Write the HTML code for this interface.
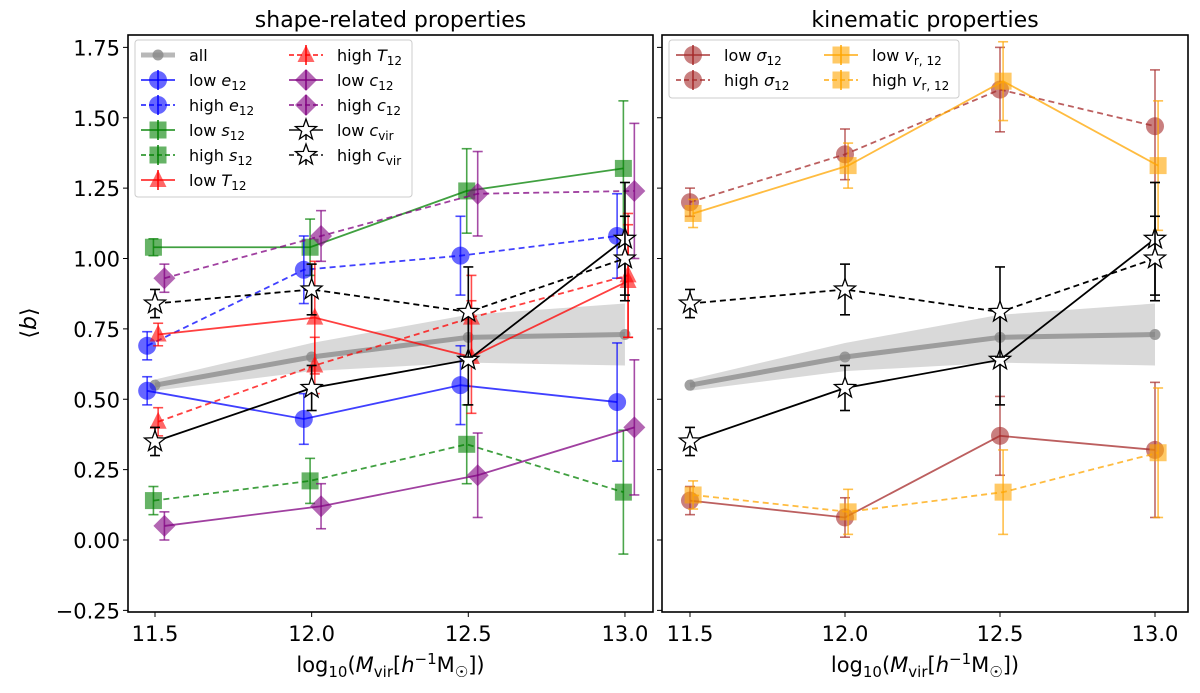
<!DOCTYPE html>
<html><head><meta charset="utf-8"><style>
body{margin:0;background:#fff;}
svg text{font-family:"DejaVu Sans","Liberation Sans",sans-serif;}
</style></head><body>
<svg id="c" width="1200" height="688" viewBox="0 0 1200 688" xmlns="http://www.w3.org/2000/svg"></svg>
<script>
const xCats=[11.5,12.0,12.5,13.0];
const yTicks=[-0.25,0,0.25,0.5,0.75,1.0,1.25,1.5,1.75];
const yTickLabels=["\u22120.25","0.00","0.25","0.50","0.75","1.00","1.25","1.50","1.75"];
const xTickLabels=["11.5","12.0","12.5","13.0"];
const allV=[0.55,0.65,0.72,0.73];
const allLo=[0.53,0.60,0.63,0.62];
const allHi=[0.57,0.70,0.80,0.84];
const lowE=[0.53,0.43,0.55,0.49], lowEErr=[0.05,0.09,0.14,0.21];
const highE=[0.69,0.96,1.01,1.08], highEErr=[0.05,0.12,0.14,0.15];
const lowS=[1.04,1.04,1.24,1.32], lowSErr=[0.03,0.1,0.15,0.24];
const highS=[0.14,0.21,0.34,0.17], highSErr=[0.05,0.08,0.14,0.22];
const lowT=[0.73,0.79,0.65,0.92], lowTErr=[0.04,0.2,0.2,0.2];
const highT=[0.42,0.62,0.79,0.94], highTErr=[0.05,0.1,0.15,0.22];
const lowC=[0.05,0.12,0.23,0.40], lowCErr=[0.05,0.08,0.15,0.24];
const highC=[0.93,1.08,1.23,1.24], highCErr=[0.05,0.09,0.15,0.24];
const lowCvir=[0.35,0.54,0.64,1.07], lowCvirErr=[0.05,0.08,0.16,0.2];
const highCvir=[0.84,0.89,0.81,1.00], highCvirErr=[0.05,0.09,0.16,0.15];
const lowSig=[0.14,0.08,0.37,0.32], lowSigErr=[0.05,0.07,0.14,0.24];
const highSig=[1.20,1.37,1.60,1.47], highSigErr=[0.05,0.09,0.15,0.2];
const lowVr=[1.16,1.33,1.63,1.33], lowVrErr=[0.05,0.08,0.14,0.23];
const highVr=[0.16,0.10,0.17,0.31], highVrErr=[0.05,0.08,0.15,0.23];

const svg=document.getElementById('c');
const NS="http://www.w3.org/2000/svg";
function el(tag,attrs,parent){const e=document.createElementNS(NS,tag);for(const k in attrs)e.setAttribute(k,attrs[k]);(parent||svg).appendChild(e);return e;}
const yS=v=>540-281.5*v;
const panels=[
 {x0:128,x1:653,xs:v=>155+(v-11.5)*313.3,title:"shape-related properties",name:"left"},
 {x0:662,x1:1188,xs:v=>690+(v-11.5)*310,title:"kinematic properties",name:"right"}];

function marker(g,type,x,y,fill,stroke,op){
  let e;
  if(type==='o'){e=el('circle',{cx:x,cy:y,r:9},g);}
  else if(type==='s'){e=el('rect',{x:x-8.5,y:y-8.5,width:17,height:17},g);}
  else if(type==='^'){e=el('polygon',{points:`${x},${y-10} ${x+8.5},${y+7} ${x-8.5},${y+7}`},g);}
  else if(type==='D'){e=el('polygon',{points:`${x},${y-11} ${x+11},${y} ${x},${y+11} ${x-11},${y}`},g);}
  else if(type==='*'){let p=[];for(let i=0;i<10;i++){const a=-Math.PI/2+i*Math.PI/5;const r=i%2?4.5:11;p.push((x+r*Math.cos(a)).toFixed(1)+','+(y+r*Math.sin(a)).toFixed(1));}e=el('polygon',{points:p.join(' ')},g);}
  e.setAttribute('fill',fill);e.setAttribute('fill-opacity',op);
  if(type==='*'){e.setAttribute('stroke','#000');e.setAttribute('stroke-width','1.3');}
  return e;
}

function series(p,vals,errs,off,color,dash,type,name){
  const g=el('g',{});
  
  
  const pts=vals.map((v,i)=>[p.xs(xCats[i]+off),yS(v)]);
  const ln=el('polyline',{points:pts.map(q=>q.join(',')).join(' '),fill:'none',stroke:color,'stroke-width':1.8,'stroke-opacity':type==='*'?1:0.75},g);
  if(dash)ln.setAttribute('stroke-dasharray','6,4');
  
  
  pts.forEach((q,i)=>{
    const e=errs[i],y1=yS(vals[i]+e),y2=yS(vals[i]-e),x=q[0];
    const eo=type==='*'?1:0.7;
    el('line',{x1:x,x2:x,y1:y1,y2:y2,stroke:color,'stroke-width':1.6,'stroke-opacity':eo},g);
    el('line',{x1:x-5,x2:x+5,y1:y1,y2:y1,stroke:color,'stroke-width':1.6,'stroke-opacity':eo},g);
    el('line',{x1:x-5,x2:x+5,y1:y2,y2:y2,stroke:color,'stroke-width':1.6,'stroke-opacity':eo},g);
    const m=marker(g,type,x,q[1],type==='*'?'#fff':color,color,type==='*'?1:0.6);
    
    
  });
}

function allSeries(p){
  const g=el('g',{});
  
  
  const top=allHi.map((v,i)=>p.xs(xCats[i])+','+yS(v));
  const bot=allLo.map((v,i)=>p.xs(xCats[i])+','+yS(v)).reverse();
  const b=el('polygon',{points:top.concat(bot).join(' '),fill:'#aaa','fill-opacity':0.45},g);
  
  
  el('polyline',{points:allV.map((v,i)=>p.xs(xCats[i])+','+yS(v)).join(' '),fill:'none',stroke:'#888','stroke-opacity':0.75,'stroke-width':5},g);
  allV.forEach((v,i)=>{const c=el('circle',{cx:p.xs(xCats[i]),cy:yS(v),r:5.5,fill:'#888','fill-opacity':0.8},g);
    
    });
}

panels.forEach((p,pi)=>{
  const f=el('rect',{x:p.x0,y:35,width:p.x1-p.x0,height:577,fill:'#fff',stroke:'none'});
  
  
  yTicks.forEach((t,i)=>{
    el('line',{x1:p.x0-5,x2:p.x0,y1:yS(t),y2:yS(t),stroke:'#000','stroke-width':1});
    if(pi===0){const tx=el('text',{x:p.x0-8,y:yS(t)+8,'text-anchor':'end','font-size':21});tx.textContent=yTickLabels[i];
      
      }
  });
  xCats.forEach((t,i)=>{
    el('line',{x1:p.xs(t),x2:p.xs(t),y1:612,y2:617,stroke:'#000','stroke-width':1});
    const tx=el('text',{x:p.xs(t),y:641,'text-anchor':'middle','font-size':21});tx.textContent=xTickLabels[i];
    
    
  });
  const ti=el('text',{x:(p.x0+p.x1)/2,y:27,'text-anchor':'middle','font-size':22});ti.textContent=p.title;
  
  
  const xl=el('text',{x:(p.x0+p.x1)/2,y:672,'text-anchor':'middle','font-size':21});
  xl.innerHTML='log<tspan font-size="15" dy="5">10</tspan><tspan dy="-5">(</tspan><tspan font-style="italic">M</tspan><tspan font-size="15" dy="5">vir</tspan><tspan dy="-5">[</tspan><tspan font-style="italic">h</tspan><tspan font-size="15" dy="-8">\u22121</tspan><tspan dy="8">M</tspan><tspan font-size="15" dy="5">\u2609</tspan><tspan dy="-5">])</tspan>';
  
  
  allSeries(p);
});
const L=panels[0],R=panels[1];
series(L,lowS,lowSErr,-0.005,'#008000',false,'s','low-s12');
series(L,highS,highSErr,-0.005,'#008000',true,'s','high-s12');
series(L,lowE,lowEErr,-0.025,'#0000ff',false,'o','low-e12');
series(L,highE,highEErr,-0.025,'#0000ff',true,'o','high-e12');
series(L,lowT,lowTErr,0.01,'#ff0000',false,'^','low-t12');
series(L,highT,highTErr,0.01,'#ff0000',true,'^','high-t12');
series(L,lowC,lowCErr,0.03,'#800080',false,'D','low-c12');
series(L,highC,highCErr,0.03,'#800080',true,'D','high-c12');
series(L,lowCvir,lowCvirErr,0.0,'#000',false,'*','low-cvir');
series(L,highCvir,highCvirErr,0.0,'#000',true,'*','high-cvir');
series(R,lowSig,lowSigErr,0,'#a52a2a',false,'o','low-sigma12');
series(R,highSig,highSigErr,0,'#a52a2a',true,'o','high-sigma12');
series(R,lowVr,lowVrErr,0.01,'#ffa500',false,'s','low-vr12');
series(R,highVr,highVrErr,0.01,'#ffa500',true,'s','high-vr12');
series(R,lowCvir,lowCvirErr,0.0,'#000',false,'*','low-cvir-right');
series(R,highCvir,highCvirErr,0.0,'#000',true,'*','high-cvir-right');

panels.forEach(p=>{
  const b=el('rect',{x:p.x0,y:35,width:p.x1-p.x0,height:577,fill:'none',stroke:'#000','stroke-width':1.6});
  
  
});
const yl=el('text',{x:0,y:0,'text-anchor':'middle','font-size':22,transform:'translate(36,323) rotate(-90)'});
yl.innerHTML='\u27E8<tspan font-style="italic">b</tspan>\u27E9';



function legend(x,y,w,h,items,name){
  const g=el('g',{});
  
  
  el('rect',{x:x,y:y,width:w,height:h,rx:3,fill:'#fff','fill-opacity':0.85,stroke:'#ccc'},g);
  items.forEach(it=>{
    const [mx,my,type,color,dash,html]=it;
    const ln=el('line',{x1:mx-17,x2:mx+17,y1:my,y2:my,stroke:color,'stroke-width':type==='all'?5:1.8,'stroke-opacity':type==='all'?0.6:0.8},g);
    if(dash)ln.setAttribute('stroke-dasharray','5,3');
    if(type==='all'){el('circle',{cx:mx,cy:my,r:5.5,fill:'#888','fill-opacity':0.8},g);}
    else{el('line',{x1:mx,x2:mx,y1:my-10,y2:my+10,stroke:color,'stroke-width':1.5},g);
      marker(g,type,mx,my,type==='*'?'#fff':color,color,type==='*'?1:0.6);}
    const t=el('text',{x:mx+31,y:my+6,'font-size':16},g);t.innerHTML=html;
    
    
  });
}
const sub=(v,s)=>`<tspan font-style="italic">${v}</tspan><tspan font-size="12" dy="4">${s}</tspan>`;
legend(135,40,277,157,[
 [158,55,'all','#888',false,'all'],
 [158,80,'o','#0000ff',false,'low '+sub('e','12')],
 [158,105,'o','#0000ff',true,'high '+sub('e','12')],
 [158,130,'s','#008000',false,'low '+sub('s','12')],
 [158,155,'s','#008000',true,'high '+sub('s','12')],
 [158,180,'^','#ff0000',false,'low '+sub('T','12')],
 [306,55,'^','#ff0000',true,'high '+sub('T','12')],
 [306,80,'D','#800080',false,'low '+sub('c','12')],
 [306,105,'D','#800080',true,'high '+sub('c','12')],
 [306,130,'*','#000',false,'low '+sub('c','vir')],
 [306,155,'*','#000',true,'high '+sub('c','vir')]
],'left-legend');
legend(669,40,290,58,[
 [693,55,'o','#a52a2a',false,'low '+sub('\u03C3','12')],
 [693,80,'o','#a52a2a',true,'high '+sub('\u03C3','12')],
 [841,55,'s','#ffa500',false,'low <tspan font-style="italic">v</tspan><tspan font-size="12" dy="4">r, 12</tspan>'],
 [841,80,'s','#ffa500',true,'high <tspan font-style="italic">v</tspan><tspan font-size="12" dy="4">r, 12</tspan>']
],'right-legend');
</script>
</body></html>
